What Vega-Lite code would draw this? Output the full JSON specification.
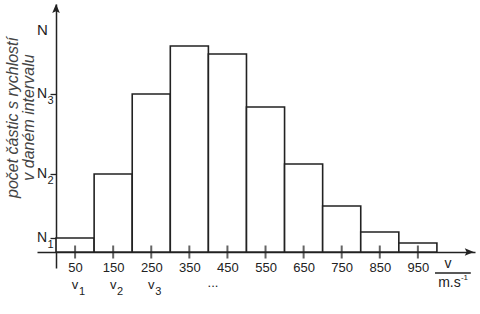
{
  "$schema": "https://vega.github.io/schema/vega-lite/v6.json",
  "width": 438,
  "height": 264,
  "autosize": {"type": "none"},
  "padding": {"left": 37, "top": 4, "right": 5, "bottom": 46},
  "background": "white",
  "config": {
    "view": {"stroke": null},
    "font": "Liberation Sans",
    "text": {"font": "Liberation Sans", "color": "#222"}
  },
  "datasets": {
    "bins": [
      {"v0": 0, "v1": 100, "c": 50, "n": 14},
      {"v0": 100, "v1": 200, "c": 150, "n": 78},
      {"v0": 200, "v1": 300, "c": 250, "n": 158},
      {"v0": 300, "v1": 400, "c": 350, "n": 206},
      {"v0": 400, "v1": 500, "c": 450, "n": 198},
      {"v0": 500, "v1": 600, "c": 550, "n": 145},
      {"v0": 600, "v1": 700, "c": 650, "n": 88},
      {"v0": 700, "v1": 800, "c": 750, "n": 46},
      {"v0": 800, "v1": 900, "c": 850, "n": 20},
      {"v0": 900, "v1": 1000, "c": 950, "n": 9}
    ],
    "vlabels": [
      {"c": 50, "s": "1"},
      {"c": 150, "s": "2"},
      {"c": 250, "s": "3"}
    ],
    "nlabels": [
      {"n": 14, "s": "1"},
      {"n": 78, "s": "2"},
      {"n": 158, "s": "3"}
    ],
    "one": [{}]
  },
  "layer": [
    {
      "data": {"name": "bins"},
      "mark": {"type": "rect", "fill": "white", "stroke": "#222", "strokeWidth": 1.6},
      "encoding": {
        "x": {
          "field": "v0", "type": "quantitative",
          "scale": {"domain": [-50, 1100], "nice": false, "zero": false},
          "axis": {
            "orient": "bottom", "offset": -16, "values": [50,150,250,350,450,550,650,750,850,950],
            "ticks": false, "tickSize": 0, "labelPadding": 9, "labelFontSize": 13, "labelColor": "#222",
            "labelFont": "Liberation Sans", "domainColor": "#222", "domainWidth": 1.5, "grid": false, "title": null,
            "labelFlush": false, "labelOverlap": false
          }
        },
        "x2": {"field": "v1"},
        "y": {
          "field": "n", "type": "quantitative",
          "scale": {"domain": [-16, 248], "nice": false, "zero": false},
          "axis": {
            "orient": "left", "offset": -19, "values": [14, 78, 158], "labels": false,
            "tickSize": 6, "tickColor": "#222", "tickWidth": 1.3,
            "domainColor": "#222", "domainWidth": 1.5, "grid": false,
            "title": ["počet částic s rychlostí", "v daném intervalu"],
            "titleFont": "Liberation Sans", "titleFontStyle": "italic", "titleFontWeight": "normal", "titleFontSize": 16,
            "titleColor": "#444", "titleLineHeight": 16, "titleX": -52, "titleY": 113, "titleAngle": -90,
            "titleAlign": "center", "titleBaseline": "top"
          }
        },
        "y2": {"datum": 0}
      }
    },
    {
      "data": {"name": "bins"},
      "mark": {"type": "tick", "orient": "vertical", "size": 13, "thickness": 2, "color": "#222"},
      "encoding": {
        "x": {"field": "c", "type": "quantitative"},
        "y": {"datum": 0}
      }
    },
    {
      "data": {"name": "vlabels"},
      "mark": {"type": "text", "fontSize": 13, "baseline": "middle", "align": "center", "text": "v"},
      "encoding": {
        "x": {"field": "c", "type": "quantitative"},
        "y": {"datum": -33}
      }
    },
    {
      "data": {"name": "vlabels"},
      "mark": {"type": "text", "fontSize": 11, "baseline": "middle", "align": "center", "dx": 7, "dy": 7},
      "encoding": {
        "x": {"field": "c", "type": "quantitative"},
        "y": {"datum": -33},
        "text": {"field": "s"}
      }
    },
    {
      "data": {"name": "nlabels"},
      "mark": {"type": "text", "fontSize": 14, "baseline": "middle", "align": "right", "text": "N"},
      "encoding": {
        "x": {"datum": -23.6},
        "y": {"field": "n", "type": "quantitative"}
      }
    },
    {
      "data": {"name": "nlabels"},
      "mark": {"type": "text", "fontSize": 11, "baseline": "middle", "align": "left", "dx": 0.5, "dy": 7},
      "encoding": {
        "x": {"datum": -23.6},
        "y": {"field": "n", "type": "quantitative"},
        "text": {"field": "s"}
      }
    },
    {
      "data": {"name": "one"},
      "mark": {"type": "text", "fontSize": 13, "baseline": "alphabetic", "align": "center", "text": "..."},
      "encoding": {"x": {"datum": 412}, "y": {"datum": -35}}
    },
    {
      "data": {"name": "one"},
      "mark": {"type": "text", "fontSize": 15, "baseline": "middle", "align": "left", "text": "N"},
      "encoding": {"x": {"datum": -50}, "y": {"datum": 222}}
    },
    {
      "data": {"name": "one"},
      "mark": {"type": "text", "fontSize": 14, "baseline": "middle", "align": "center", "text": "v"},
      "encoding": {"x": {"datum": 1029}, "y": {"datum": -12}}
    },
    {
      "data": {"name": "one"},
      "mark": {"type": "text", "fontSize": 14, "baseline": "middle", "align": "center", "text": "m.s"},
      "encoding": {"x": {"datum": 1033}, "y": {"datum": -31}}
    },
    {
      "data": {"name": "one"},
      "mark": {"type": "text", "fontSize": 8, "baseline": "middle", "align": "left", "text": "-1"},
      "encoding": {"x": {"datum": 1063}, "y": {"datum": -26}}
    },
    {
      "data": {"name": "one"},
      "mark": {"type": "rule", "color": "#222", "strokeWidth": 1.3},
      "encoding": {"x": {"datum": 995}, "x2": {"datum": 1089}, "y": {"datum": -21}}
    },
    {
      "data": {"name": "one"},
      "mark": {"type": "point", "filled": true, "color": "#222", "opacity": 1, "size": 81, "shape": "M-1,-0.85L1,0L-1,0.85L-0.6,0Z"},
      "encoding": {"x": {"datum": 1085}, "y": {"datum": 0}}
    },
    {
      "data": {"name": "one"},
      "mark": {"type": "point", "filled": true, "color": "#222", "opacity": 1, "size": 81, "shape": "M-0.85,1L0,-1L0.85,1L0,0.6Z"},
      "encoding": {"x": {"datum": 0}, "y": {"datum": 243.5}}
    }
  ]
}
